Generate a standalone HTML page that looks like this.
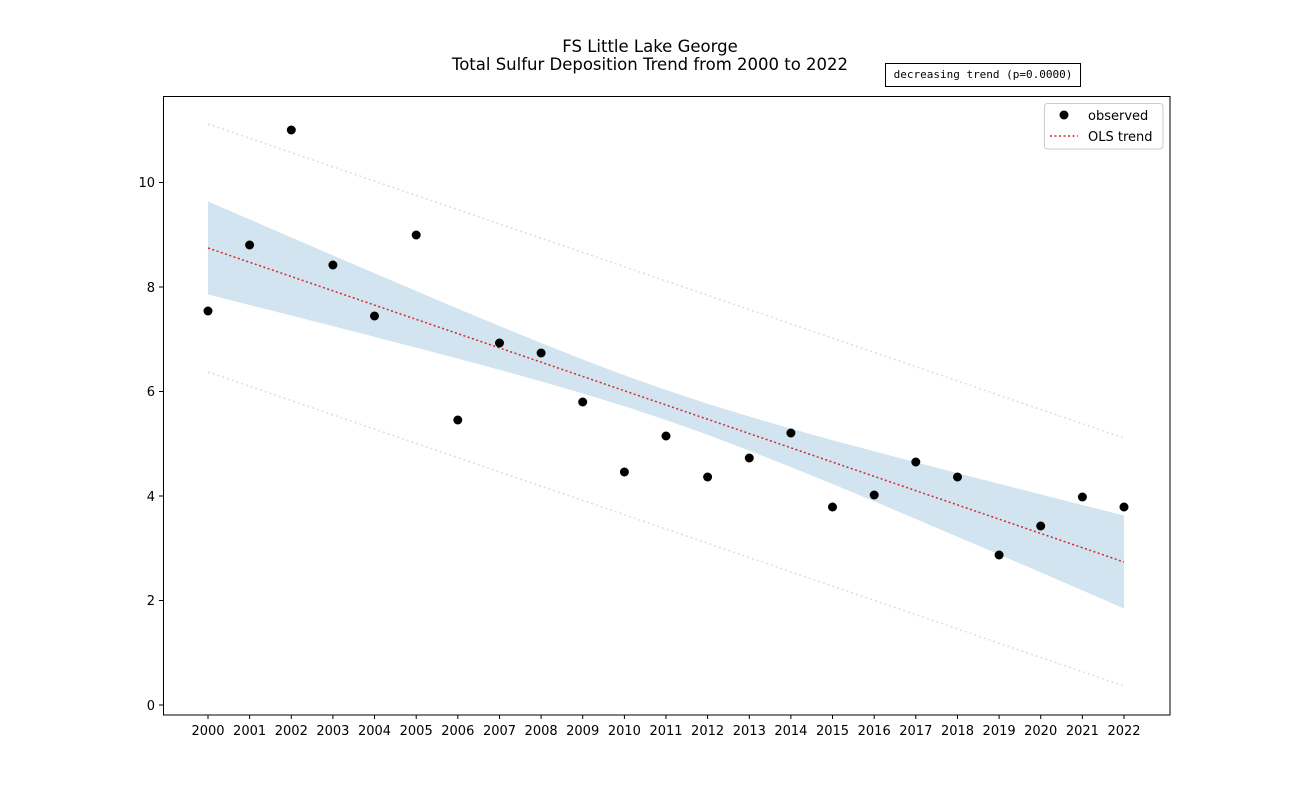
<!DOCTYPE html>
<html><head><meta charset="utf-8"><style>html,body{margin:0;padding:0;background:#fff}svg{display:block}text{font-family:"DejaVu Sans","Liberation Sans",sans-serif}</style></head>
<body>
<svg width="1300" height="803" viewBox="0 0 1300 803" xmlns="http://www.w3.org/2000/svg">
<rect width="1300" height="803" fill="#fff"/>
<text x="650" y="52" font-size="16.5" text-anchor="middle">FS Little Lake George</text>
<text x="650" y="70" font-size="16.5" text-anchor="middle">Total Sulfur Deposition Trend from 2000 to 2022</text>
<rect x="885.5" y="63.5" width="195" height="23" fill="#fff" stroke="#000" stroke-width="1"/>
<text x="983" y="78" font-size="11" text-anchor="middle" style="font-family:'DejaVu Sans Mono','Liberation Mono',monospace">decreasing trend (p=0.0000)</text>
<polygon fill="#1f77b4" fill-opacity="0.2" points="208,201.5 249.6,219.4 291.3,237.5 332.9,255.4 374.5,273.3 416.2,291 457.8,308.6 499.5,326 541.1,343 582.7,359.5 624.4,375.2 666,390 707.6,403.7 749.3,416.5 790.9,428.6 832.5,440.2 874.2,451.3 915.8,462.3 957.5,473.1 999.1,483.8 1040.7,494.4 1082.4,505 1124,515.5 1124,608.5 1082.4,590.4 1040.7,572.4 999.1,554.5 957.5,536.7 915.8,519 874.2,501.3 832.5,484 790.9,467 749.3,450.6 707.6,434.7 666,420 624.4,406.2 582.7,393.4 541.1,381.4 499.5,369.8 457.8,358.6 416.2,347.6 374.5,336.9 332.9,326.1 291.3,315.5 249.6,305 208,294.5"/>
<line x1="208" y1="124" x2="1124" y2="438" stroke="#ddd" stroke-width="1.5" stroke-dasharray="2,3"/>
<line x1="208" y1="372" x2="1124" y2="686" stroke="#ddd" stroke-width="1.5" stroke-dasharray="2,3"/>
<line x1="208" y1="248" x2="1124" y2="562" stroke="#d62728" stroke-width="1.5" stroke-dasharray="2,2.5"/>
<g fill="#000">
<circle cx="208" cy="311" r="4.5"/><circle cx="249.6" cy="245" r="4.5"/><circle cx="291.3" cy="130" r="4.5"/><circle cx="332.9" cy="265" r="4.5"/><circle cx="374.5" cy="316" r="4.5"/><circle cx="416.2" cy="235" r="4.5"/><circle cx="457.8" cy="420" r="4.5"/><circle cx="499.5" cy="343" r="4.5"/><circle cx="541.1" cy="353" r="4.5"/><circle cx="582.7" cy="402" r="4.5"/><circle cx="624.4" cy="472" r="4.5"/><circle cx="666" cy="436" r="4.5"/><circle cx="707.6" cy="477" r="4.5"/><circle cx="749.3" cy="458" r="4.5"/><circle cx="790.9" cy="433" r="4.5"/><circle cx="832.5" cy="507" r="4.5"/><circle cx="874.2" cy="495" r="4.5"/><circle cx="915.8" cy="462" r="4.5"/><circle cx="957.5" cy="477" r="4.5"/><circle cx="999.1" cy="555" r="4.5"/><circle cx="1040.7" cy="526" r="4.5"/><circle cx="1082.4" cy="497" r="4.5"/><circle cx="1124" cy="507" r="4.5"/>
</g>
<rect x="163.5" y="96.5" width="1006.5" height="618.5" fill="none" stroke="#000" stroke-width="1"/>
<g stroke="#000" stroke-width="1">
<line x1="163" y1="705" x2="159" y2="705"/><line x1="163" y1="600.5" x2="159" y2="600.5"/><line x1="163" y1="496" x2="159" y2="496"/><line x1="163" y1="391.5" x2="159" y2="391.5"/><line x1="163" y1="287" x2="159" y2="287"/><line x1="163" y1="182.5" x2="159" y2="182.5"/>
</g>
<g font-size="13" text-anchor="end">
<text x="155" y="710">0</text><text x="155" y="605">2</text><text x="155" y="501">4</text><text x="155" y="396">6</text><text x="155" y="292">8</text><text x="155" y="187">10</text>
</g>
<g stroke="#000" stroke-width="1">
<line x1="208" y1="715" x2="208" y2="719"/><line x1="249.6" y1="715" x2="249.6" y2="719"/><line x1="291.3" y1="715" x2="291.3" y2="719"/><line x1="332.9" y1="715" x2="332.9" y2="719"/><line x1="374.5" y1="715" x2="374.5" y2="719"/><line x1="416.2" y1="715" x2="416.2" y2="719"/><line x1="457.8" y1="715" x2="457.8" y2="719"/><line x1="499.5" y1="715" x2="499.5" y2="719"/><line x1="541.1" y1="715" x2="541.1" y2="719"/><line x1="582.7" y1="715" x2="582.7" y2="719"/><line x1="624.4" y1="715" x2="624.4" y2="719"/><line x1="666" y1="715" x2="666" y2="719"/><line x1="707.6" y1="715" x2="707.6" y2="719"/><line x1="749.3" y1="715" x2="749.3" y2="719"/><line x1="790.9" y1="715" x2="790.9" y2="719"/><line x1="832.5" y1="715" x2="832.5" y2="719"/><line x1="874.2" y1="715" x2="874.2" y2="719"/><line x1="915.8" y1="715" x2="915.8" y2="719"/><line x1="957.5" y1="715" x2="957.5" y2="719"/><line x1="999.1" y1="715" x2="999.1" y2="719"/><line x1="1040.7" y1="715" x2="1040.7" y2="719"/><line x1="1082.4" y1="715" x2="1082.4" y2="719"/><line x1="1124" y1="715" x2="1124" y2="719"/>
</g>
<g font-size="13" text-anchor="middle">
<text x="208" y="735">2000</text><text x="249.6" y="735">2001</text><text x="291.3" y="735">2002</text><text x="332.9" y="735">2003</text><text x="374.5" y="735">2004</text><text x="416.2" y="735">2005</text><text x="457.8" y="735">2006</text><text x="499.5" y="735">2007</text><text x="541.1" y="735">2008</text><text x="582.7" y="735">2009</text><text x="624.4" y="735">2010</text><text x="666" y="735">2011</text><text x="707.6" y="735">2012</text><text x="749.3" y="735">2013</text><text x="790.9" y="735">2014</text><text x="832.5" y="735">2015</text><text x="874.2" y="735">2016</text><text x="915.8" y="735">2017</text><text x="957.5" y="735">2018</text><text x="999.1" y="735">2019</text><text x="1040.7" y="735">2020</text><text x="1082.4" y="735">2021</text><text x="1124" y="735">2022</text>
</g>
<rect x="1044.5" y="103.5" width="118.5" height="45.5" rx="3" fill="#fff" fill-opacity="0.8" stroke="#ccc"/>
<circle cx="1064" cy="115" r="4.5" fill="#000"/>
<text x="1088" y="120" font-size="13">observed</text>
<line x1="1050" y1="136" x2="1078" y2="136" stroke="#d62728" stroke-width="1.5" stroke-dasharray="2,2.5"/>
<text x="1088" y="141" font-size="13">OLS trend</text>
</svg>
</body></html>
